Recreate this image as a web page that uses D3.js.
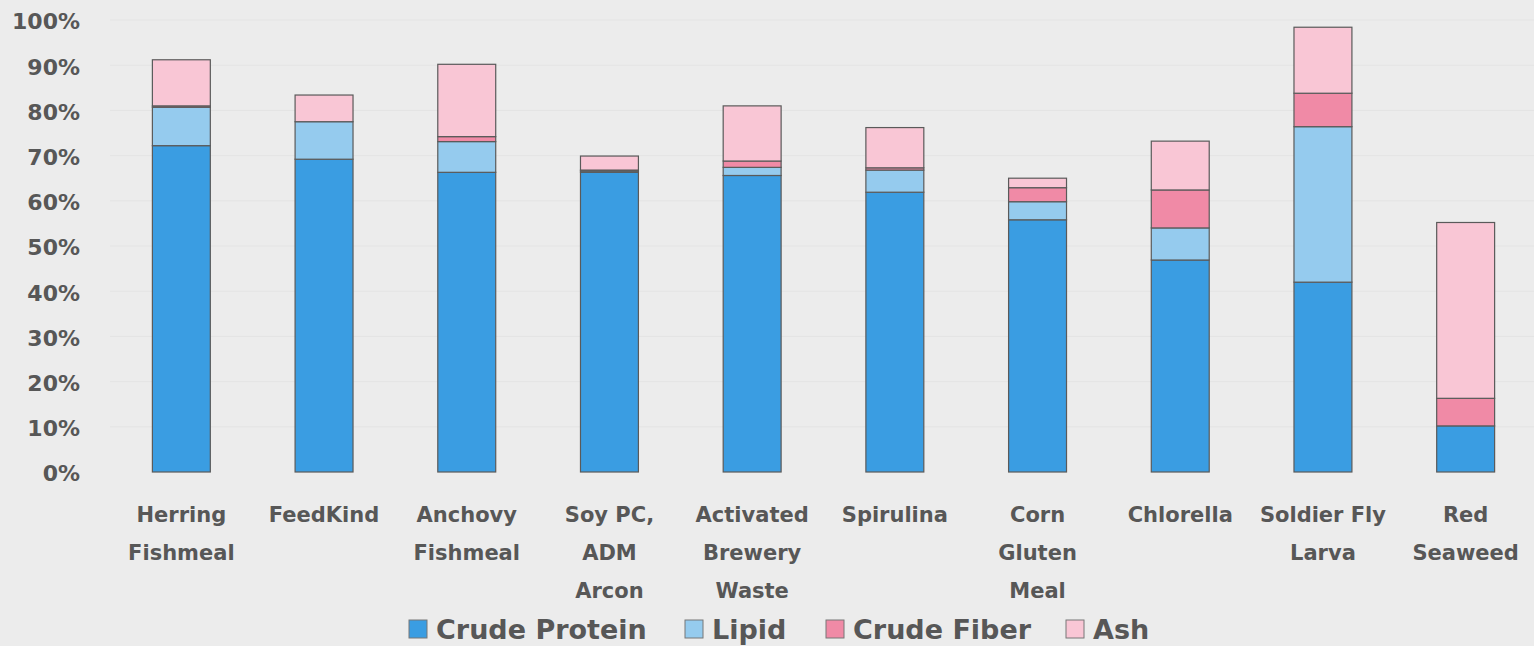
<!DOCTYPE html>
<html>
<head>
<title>Feed composition</title>
<style>
body { margin: 0; background: #ececec; }
.tick text, .catLabel, .legendLabel {
  font-family: "DejaVu Sans", sans-serif;
  font-weight: bold;
  fill: #575757;
}
</style>
<script src="https://d3js.org/d3.v7.min.js"></script>
</head>
<body>
<svg id="chart" width="1534" height="646"></svg>
<script>

// categories (line breaks as on the chart)
var categories = [
  ["Herring", "Fishmeal"],
  ["FeedKind"],
  ["Anchovy", "Fishmeal"],
  ["Soy PC,", "ADM", "Arcon"],
  ["Activated", "Brewery", "Waste"],
  ["Spirulina"],
  ["Corn", "Gluten", "Meal"],
  ["Chlorella"],
  ["Soldier Fly", "Larva"],
  ["Red", "Seaweed"]
];

var seriesNames = ["Crude Protein", "Lipid", "Crude Fiber", "Ash"];
var seriesColors = ["#3a9de2", "#95cbee", "#f08aa6", "#f9c6d5"];

// values in percent
var crudeProtein = [72.2, 69.2, 66.3, 66.3, 65.6, 61.9, 55.8, 46.9, 42.0, 10.2];
var lipid        = [ 8.5,  8.3,  6.8,  0.3,  1.8,  4.9,  4.0,  7.1, 34.4,  0.0];
var crudeFiber   = [ 0.3,  0.0,  1.1,  0.2,  1.4,  0.5,  3.1,  8.4,  7.4,  6.1];
var ash          = [10.2,  5.9, 16.0,  3.1, 12.2,  8.9,  2.1, 10.8, 14.6, 38.9];

var yTicks = [0, 10, 20, 30, 40, 50, 60, 70, 80, 90, 100];

var rows = categories.map(function(c, i) {
  return {name: c.join(" "), lines: c,
    "Crude Protein": crudeProtein[i], "Lipid": lipid[i],
    "Crude Fiber": crudeFiber[i], "Ash": ash[i]};
});

var svg = d3.select("#chart");

var x = d3.scaleBand()
  .domain(rows.map(d => d.name))
  .range([110, 1537])
  .paddingInner(0.594)
  .paddingOuter(0.297);

var y = d3.scaleLinear()
  .domain([0, 100])
  .range([472, 20]);

// gridlines (very faint on the original)
svg.append("g")
  .selectAll("line")
  .data(yTicks.slice(1))
  .join("line")
  .attr("x1", 110).attr("x2", 1534)
  .attr("y1", d => y(d)).attr("y2", d => y(d))
  .attr("stroke", "#e4e4e4")
  .attr("stroke-width", 1);

// y axis labels
var yAxis = svg.append("g")
  .attr("transform", "translate(80,0)")
  .call(d3.axisLeft(y).tickValues(yTicks).tickSize(0).tickPadding(0).tickFormat(d => d + "%"));
yAxis.select(".domain").remove();
yAxis.selectAll("text").style("font-size", "22px").attr("dy", "0.4em");

var stack = d3.stack().keys(seriesNames);
var layers = stack(rows);

svg.append("g")
  .selectAll("g")
  .data(layers)
  .join("g")
  .attr("fill", (d, i) => seriesColors[i])
  .selectAll("rect")
  .data(d => d.filter(p => p[1] - p[0] > 0))
  .join("rect")
  .attr("x", d => x(d.data.name))
  .attr("y", d => y(d[1]))
  .attr("height", d => y(d[0]) - y(d[1]))
  .attr("width", x.bandwidth())
  .attr("stroke", "#5a5a5a")
  .attr("stroke-width", 1.2);

// category labels
var cat = svg.append("g")
  .selectAll("text")
  .data(rows)
  .join("text")
  .attr("class", "catLabel")
  .attr("text-anchor", "middle")
  .style("font-size", "21px")
  .attr("transform", d => "translate(" + (x(d.name) + x.bandwidth() / 2) + ",522)");

cat.selectAll("tspan")
  .data(d => d.lines)
  .join("tspan")
  .attr("x", 0)
  .attr("y", (d, i) => i * 38)
  .text(d => d);

// legend
var legendX = [409, 685, 826, 1066];
var legend = svg.append("g")
  .selectAll("g")
  .data(seriesNames)
  .join("g")
  .attr("transform", (d, i) => "translate(" + legendX[i] + ",620)");

legend.append("rect")
  .attr("width", 18).attr("height", 18)
  .attr("fill", (d, i) => seriesColors[i])
  .attr("stroke", "#777")
  .attr("stroke-width", 1);

legend.append("text")
  .attr("class", "legendLabel")
  .attr("x", 27)
  .attr("y", 19)
  .style("font-size", "27px")
  .text(d => d);

</script>
</body>
</html>
